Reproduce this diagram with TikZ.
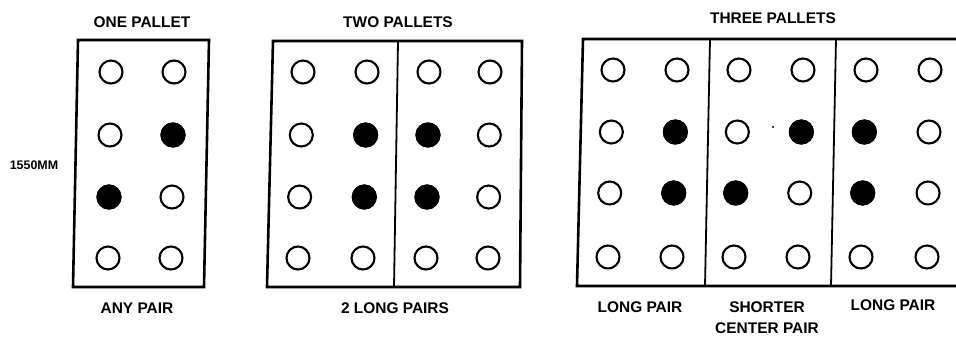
\documentclass[tikz,border=0pt]{standalone}
\usepackage{fontspec}
\setmainfont{Liberation Sans}
\begin{document}
\begin{tikzpicture}[x=1bp,y=-1bp,
  boxline/.style={line width=2.6bp, line join=miter},
  divline/.style={line width=1.8bp},
  hole/.style={draw, line width=2.1bp, ellipse-like/.style={}, circle, minimum width=23bp, inner sep=0pt, outer sep=0pt},
  full/.style={hole, fill=black},
  lbl/.style={font=\bfseries\fontsize{15.5}{16}\selectfont, inner sep=0pt, align=center}
]
\useasboundingbox (0,0) rectangle (956,340);
% ---------- one pallet
\draw[boxline] (78,40) -- (209,40) -- (204,287) -- (73,287) -- cycle;
\foreach \r/\y in {1/72,2/135,3/197,4/258}{
  \node[hole] (a1\r) at ({111-(\y-72)/62},\y) {};
  \node[hole] (a2\r) at ({174-(\y-72)/62},\y) {};
}
\node[full] at (a22) {};
\node[full] at (a13) {};
\node[lbl] (t1) at (142,22) {ONE PALLET};
\node[lbl] (b1) at (137,308) {ANY PAIR};
\node[lbl, font=\bfseries\fontsize{12.5}{13}\selectfont] (dim) at (34,165) {1550MM};
% ---------- two pallets
\draw[boxline] (273,41) -- (522,41) -- (520,287) -- (267,287) -- cycle;
\draw[divline] (398,41) -- (394,287);
\foreach \r/\y in {1/72,2/135,3/197,4/258}{
  \node[hole] (b1\r) at ({303-(\y-72)*5/186},\y) {};
  \node[hole] (b2\r) at ({367-(\y-72)*4/186},\y) {};
  \node[hole] (b3\r) at ({429-(\y-72)*3/186},\y) {};
  \node[hole] (b4\r) at ({490-(\y-72)*2/186},\y) {};
}
\foreach \n in {b22,b23,b32,b33}{\node[full] at (\n) {};}
\node[lbl] (t2) at (398,22) {TWO PALLETS};
\node[lbl] (b2) at (395,308) {2 LONG PAIRS};
% ---------- three pallets
\draw[boxline] (956,39) -- (583,39) -- (577,286) -- (956,286);
\draw[divline] (710,39) -- (705,286);
\draw[divline] (836,39) -- (831,286);
\foreach \r/\y in {1/70,2/132,3/193,4/257}{
  \node[hole] (c1\r) at ({613-(\y-70)*5/187},\y) {};
  \node[hole] (c2\r) at ({677-(\y-70)*5/187},\y) {};
  \node[hole] (c3\r) at ({739-(\y-70)*5/187},\y) {};
  \node[hole] (c4\r) at ({803-(\y-70)*5/187},\y) {};
  \node[hole] (c5\r) at ({866-(\y-70)*5/187},\y) {};
  \node[hole] (c6\r) at ({930-(\y-70)*3/187},\y) {};
}
\foreach \n in {c22,c23,c42,c33,c52,c53}{\node[full] at (\n) {};}
\fill (773,127) circle (1.2bp);
\node[lbl] (t3) at (773,18) {THREE PALLETS};
\node[lbl] (l1) at (640,307) {LONG PAIR};
\node[lbl] (l2) at (767,318) {SHORTER\\[5bp]CENTER PAIR};
\node[lbl] (l3) at (893,305) {LONG PAIR};
\end{tikzpicture}
\end{document}
